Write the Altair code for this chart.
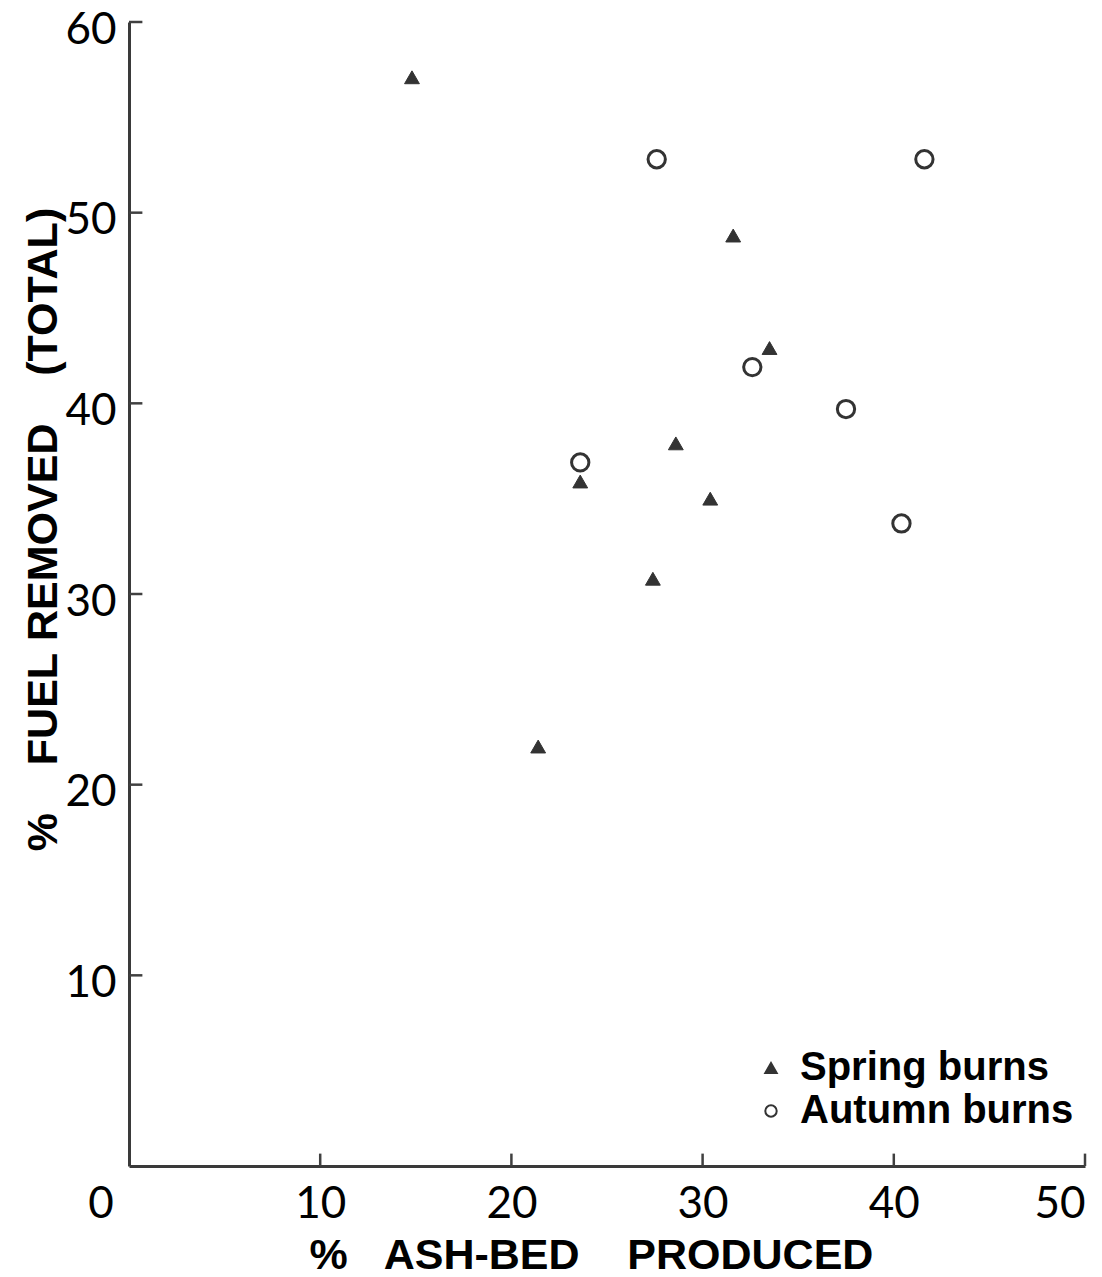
import altair as alt
import pandas as pd

# ---- data ----
spring_x = [14.8, 31.6, 33.5, 28.6, 23.6, 30.4, 27.4, 21.4]
spring_y = [57.1, 48.8, 42.9, 37.9, 35.9, 35.0, 30.8, 22.0]
autumn_x = [27.6, 41.6, 32.6, 37.5, 23.6, 40.4]
autumn_y = [52.8, 52.8, 41.9, 39.7, 36.9, 33.7]
series_names = ["Spring burns", "Autumn burns"]
x_ticks = [10, 20, 30, 40, 50]
y_ticks = [10, 20, 30, 40, 50, 60]

NB = "\u00a0"
x_title = "%" + NB * 3 + "ASH-BED" + NB * 4 + "PRODUCED"
y_title = "%" + NB * 4 + "FUEL" + NB + "REMOVED" + NB * 4 + "(TOTAL)"

df = pd.DataFrame({
    "ash": spring_x + autumn_x,
    "fuel": spring_y + autumn_y,
    "burn": [series_names[0]] * len(spring_x) + [series_names[1]] * len(autumn_x),
})

xscale = alt.Scale(domain=[0, 50], nice=False)
yscale = alt.Scale(domain=[0, 60], nice=False)

legend = alt.Legend(
    title=None, orient="none", legendX=622, legendY=1026,
    labelFont="Liberation Sans", labelFontWeight="bold", labelFontSize=40,
    labelColor="black", labelLimit=500, symbolSize=130, symbolStrokeWidth=2,
    rowPadding=3, labelOffset=9,
)

x_enc = alt.X("ash:Q", scale=xscale, axis=alt.Axis(
    values=x_ticks, title=x_title,
    titleX=462, titleY=102, titleBaseline="alphabetic",
    titleFontSize=43, labelPadding=16))
y_enc = alt.Y("fuel:Q", scale=yscale, axis=alt.Axis(
    values=y_ticks, title=y_title,
    titleX=-86, titleY=507, titleBaseline="middle", titleAngle=270,
    titleFontSize=43, labelPadding=13, labelOffset=8))
shape_enc = alt.Shape("burn:N", scale=alt.Scale(domain=series_names, range=["triangle-up", "circle"]), legend=legend)
fill_enc = alt.Fill("burn:N", scale=alt.Scale(domain=series_names, range=["#333333", "transparent"]), legend=legend)
stroke_enc = alt.Stroke("burn:N", scale=alt.Scale(domain=series_names, range=["#333333", "#333333"]), legend=legend)

base = alt.Chart(df).encode(x=x_enc, y=y_enc, shape=shape_enc, fill=fill_enc, stroke=stroke_enc)
spring_layer = base.transform_filter(alt.datum.burn == series_names[0]).mark_point(
    size=220, strokeWidth=1, opacity=1)
autumn_layer = base.transform_filter(alt.datum.burn == series_names[1]).mark_point(
    size=300, strokeWidth=3, opacity=1)

# inward tick marks
tick_df = pd.DataFrame({
    "ash": x_ticks + [0] * len(y_ticks),
    "ash2": x_ticks + [0.7] * len(y_ticks),
    "fuel": [0] * len(x_ticks) + y_ticks,
    "fuel2": [0.65] * len(x_ticks) + y_ticks,
})
ticks = alt.Chart(tick_df).mark_rule(color="#404040", strokeWidth=2.5).encode(
    x=alt.X("ash:Q", scale=xscale), x2="ash2:Q",
    y=alt.Y("fuel:Q", scale=yscale), y2="fuel2:Q",
)

origin = alt.Chart(pd.DataFrame({"ash": [0], "fuel": [0], "lab": ["0"]})).mark_text(
    font="Lato", fontSize=44, color="black", dx=-28, dy=39
).encode(x=alt.X("ash:Q", scale=xscale), y=alt.Y("fuel:Q", scale=yscale), text="lab:N")

chart = alt.layer(spring_layer, autumn_layer, ticks, origin).properties(
    width=956, height=1144,
    autosize=alt.AutoSizeParams(type="none"),
    padding={"left": 129, "top": 22, "right": 17, "bottom": 111},
    background="white",
).configure_view(stroke=None).configure_axis(
    grid=False, ticks=False, tickSize=0,
    domainColor="#3a3a3a", domainWidth=3,
    labelFont="Lato", labelFontSize=44, labelColor="black",
    titleFont="Liberation Sans", titleFontWeight="bold", titleColor="black",
)

chart.save("out.html", embed_options={"renderer": "svg", "actions": False})
